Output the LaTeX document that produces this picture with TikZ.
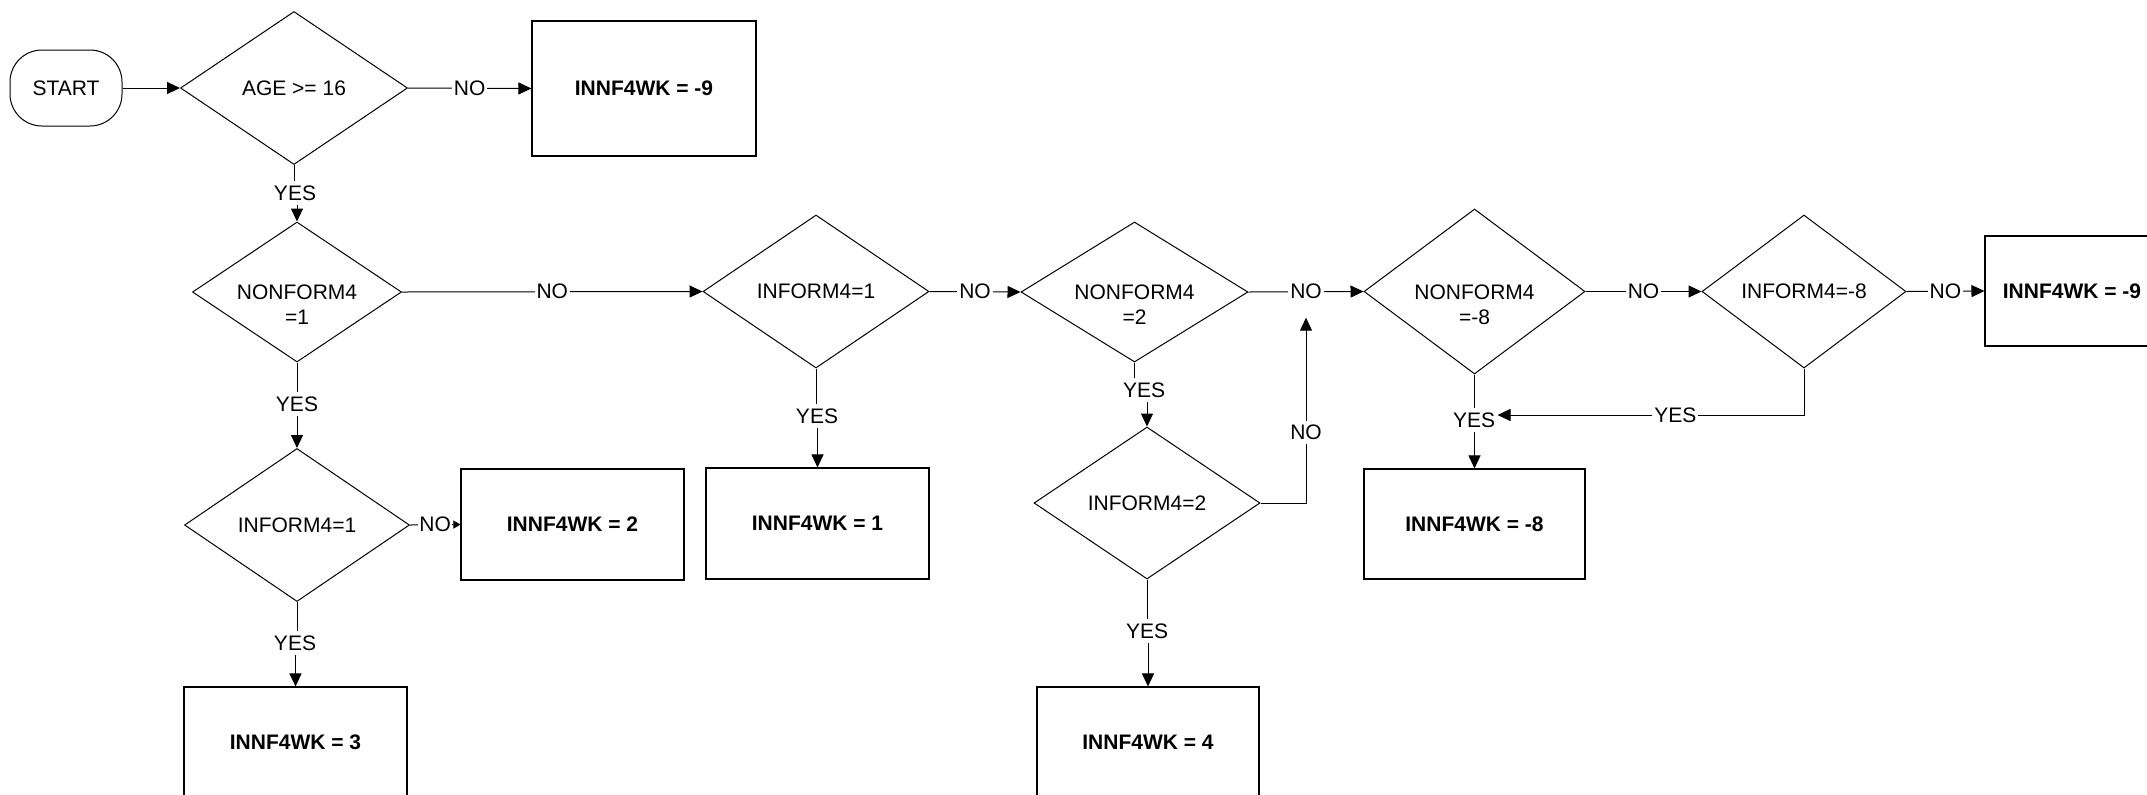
\documentclass[tikz,border=0pt]{standalone}
\usepackage{fontspec}
\setmainfont{Liberation Sans}
\usetikzlibrary{shapes.geometric,arrows.meta}
\newcommand{\twoline}[2]{\makebox[0pt]{\smash{\raisebox{-3.75pt}{\begin{tabular}[t]{@{}c@{}}#1\\#2\end{tabular}}}}}
\begin{document}
\begin{tikzpicture}[x=0.5pt,y=-0.5pt, line width=0.5pt,
  every node/.style={font=\fontsize{10.5}{12.6}\selectfont},
  dec/.style={draw, shape=diamond, inner sep=0pt, align=center},
  res/.style={draw, line width=0.55pt, rectangle, inner sep=0pt,
    font=\fontsize{10.5}{12.6}\selectfont\bfseries},
  term/.style={draw, rectangle, rounded corners=16pt, inner sep=0pt},
  lab/.style={fill=white, inner xsep=1pt, inner ysep=2pt},
  arr/.style={-{Triangle[length=6.5pt,width=6pt]}},
  smallarr/.style={-{Triangle[length=3.5pt,width=4pt]}}]
\path[use as bounding box, clip] (0,0) rectangle (2147,794);
\fill[white] (0,0) rectangle (2147,794);

% nodes
\node[term, minimum width=56pt, minimum height=38pt] (start) at (66,88) {START};
\node[dec, minimum width=113.5pt, minimum height=76.5pt] (age) at (294,88) {AGE >= 16};
\node[res, minimum width=112pt, minimum height=67.5pt] (b9a) at (644,88.5) {INNF4WK = -9};

\node[dec, minimum width=104.5pt, minimum height=70pt] (d2) at (297,292) {\twoline{NONFORM4}{=1}};
\node[dec, minimum width=112.5pt, minimum height=76.5pt] (d3) at (297,525) {INFORM4=1};
\node[res, minimum width=111.5pt, minimum height=55.5pt] (b2) at (572.5,524.5) {INNF4WK = 2};
\node[res, minimum width=111.5pt, minimum height=55.5pt] (b3) at (295.5,742.5) {INNF4WK = 3};

\node[dec, minimum width=113pt, minimum height=76.5pt] (d4) at (816,291.5) {INFORM4=1};
\node[res, minimum width=111.5pt, minimum height=55.5pt] (b1) at (817.5,523.5) {INNF4WK = 1};

\node[dec, minimum width=113.5pt, minimum height=70pt] (d5) at (1134.5,292) {\twoline{NONFORM4}{=2}};
\node[dec, minimum width=113pt, minimum height=76pt] (d6) at (1147,503) {INFORM4=2};
\node[res, minimum width=111pt, minimum height=55.5pt] (b4) at (1148,742.5) {INNF4WK = 4};

\node[dec, minimum width=110.5pt, minimum height=82.5pt] (d7) at (1474.5,291.5) {\twoline{NONFORM4}{=-8}};
\node[res, minimum width=110.5pt, minimum height=55pt] (b8) at (1474.5,524) {INNF4WK = -8};

\node[dec, minimum width=102pt, minimum height=76.5pt] (d8) at (1804,291.5) {INFORM4=-8};
\node[res, minimum width=87pt, minimum height=55pt] (b9b) at (2072,291) {INNF4WK = -9};

% vertical labels
\node[lab] (yA) at (295,193) {YES};
\node[lab] (yB) at (297,404) {YES};
\node[lab] (yC) at (295,643) {YES};
\node[lab] (yD) at (817,416) {YES};
\node[lab] (yE) at (1144,390) {YES};
\node[lab] (yF) at (1147,631) {YES};
\node[lab] (yG) at (1474,420) {YES};

% connectors
\draw[arr] (start.east) -- (age.west);
\draw[arr] (age.east) -- node[lab]{NO} (b9a.west);

\draw (age.south) -- (age.south |- yA.north);
\draw[arr] (d2.north |- yA.south) -- (d2.north);

\draw (d2.south) -- (d2.south |- yB.north);
\draw[arr] (d3.north |- yB.south) -- (d3.north);

\draw[smallarr] (d3.east) -- node[lab, inner xsep=0.5pt]{NO} (b2.west);

\draw (d3.south) -- (d3.south |- yC.north);
\draw[arr] (b3.north |- yC.south) -- (b3.north);

\draw[arr] (d2.east) -- node[lab]{NO} (d4.west);

\draw (d4.south) -- (d4.south |- yD.north);
\draw[arr] (b1.north |- yD.south) -- (b1.north);

\draw[arr] (d4.east) -- node[lab]{NO} (d5.west);

\draw (d5.south) -- (d5.south |- yE.north);
\draw[arr] (d6.north |- yE.south) -- (d6.north);

\draw (d6.south) -- (d6.south |- yF.north);
\draw[arr] (b4.north |- yF.south) -- (b4.north);

\draw[arr] (d5.east) -- node[lab] (n5) {NO} (d7.west);
\draw[arr] (d6.east) -| node[lab, pos=0.69]{NO} ([yshift=-7pt]n5.south);

\draw (d7.south) -- (d7.south |- yG.north);
\draw[arr] (b8.north |- yG.south) -- (b8.north);

\draw[arr] (d7.east) -- node[lab]{NO} (d8.west);
\draw[arr] (d8.south) |- node[lab, pos=0.71]{YES} ([yshift=2.5pt]yG.east);
\draw[arr] (d8.east) -- node[lab]{NO} (b9b.west);
\end{tikzpicture}
\end{document}
